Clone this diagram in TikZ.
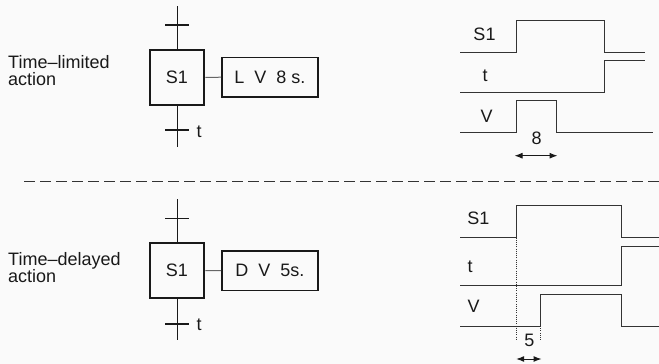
\documentclass[tikz,border=0pt]{standalone}
\usepackage{fontspec}
\setmainfont{Liberation Sans}
\usetikzlibrary{arrows.meta}
\definecolor{bgc}{RGB}{250,250,250}
\definecolor{ink}{RGB}{25,25,25}
\tikzset{
  txt/.style={inner sep=0pt, text=ink, font=\fontsize{18}{17}\selectfont},
  stepbox/.style={draw=ink, line width=2pt, minimum width=54.6pt, minimum height=55pt, inner sep=0pt, txt},
  actbox/.style={draw=ink, line width=1.6pt, minimum width=96pt, minimum height=39.4pt, inner sep=0pt, txt},
  wire/.style={draw=ink, line width=1pt},
  link/.style={draw=black!60, line width=1pt},
  tick/.style={draw=ink, line width=1.6pt},
  sig/.style={draw=black!80, line width=1pt, line join=miter},
  dots/.style={draw=black!80, line width=1pt, dash pattern=on 1pt off 1.2pt},
  sep/.style={draw=black!80, line width=1pt, dash pattern=on 11pt off 5pt},
  dim/.style={draw=ink, line width=1pt, {Latex[length=8pt,width=6pt]}-{Latex[length=8pt,width=6pt]}}
}
\begin{document}
\begin{tikzpicture}[x=1pt,y=-1pt]
\useasboundingbox[fill=bgc] (0,0) rectangle (659,364);

% ---------- top: time-limited action ----------
\node[txt, anchor=north west, align=left] (lab1) at (8,55.3) {Time–limited\\action};
\node[stepbox] (s1a) at (177,77.5) {S1};
\node[actbox] (act1) at (269.85,77.2) {L\ \ V\ \ 8 s.};
\coordinate (top1) at (177,6);
\coordinate (bot1) at (177,147);
\coordinate (tkA1) at (177,24.7);
\coordinate (tkB1) at (177,130);
\path[wire] (top1) -- (s1a.north) (s1a.south) -- (bot1);
\path[tick] ([xshift=-12pt]tkA1) -- ([xshift=12pt]tkA1);
\path[tick] ([xshift=-12pt]tkB1) -- ([xshift=12pt]tkB1);
\node[txt, anchor=base west] (t1) at (196.3,137.3) {t};
\path[link] (s1a.east) -- (act1.west);

% timing chart (top)
\node[txt, anchor=base] (ls1a) at (484.5,40) {S1};
\node[txt, anchor=base] (lta) at (485,81.7) {t};
\node[txt, anchor=base] (lva) at (486.7,122.7) {V};
\path[sig] (460,52) -- (516,52) -- (516,20) -- (604.7,20) -- (604.7,52) -- (644.7,52);
\path[sig] (460,92) -- (604.7,92) -- (604.7,60.3) -- (644.7,60.3);
\path[sig] (460,132.7) -- (516,132.7) -- (516,100.3) -- (556.3,100.3) -- (556.3,132.7) -- (653.3,132.7);
\node[txt, anchor=base] (n8) at (536.7,144) {8};
\coordinate (d8a) at (514.5,155.7);
\coordinate (d8b) at (557.5,155.7);
\path[dim] (d8a) -- (d8b);

% separator
\coordinate (sepL) at (24,181);
\coordinate (sepR) at (659,181);
\path[sep] (sepL) -- (sepR);

% ---------- bottom: time-delayed action ----------
\node[txt, anchor=north west, align=left] (lab2) at (8,252.6) {Time–delayed\\action};
\node[stepbox] (s1b) at (177,270.7) {S1};
\node[actbox] (act2) at (269.85,270.65) {D\ \ V\ \ 5s.};
\coordinate (top2) at (177,199);
\coordinate (bot2) at (177,340);
\coordinate (tkA2) at (177,218.3);
\coordinate (tkB2) at (177,324);
\path[wire] (top2) -- (s1b.north) (s1b.south) -- (bot2);
\path[tick] ([xshift=-12pt]tkA2) -- ([xshift=12pt]tkA2);
\path[tick] ([xshift=-12pt]tkB2) -- ([xshift=12pt]tkB2);
\node[txt, anchor=base west] (t2) at (196.3,330.5) {t};
\path[link] (s1b.east) -- (act2.west);

% timing chart (bottom)
\node[txt, anchor=base west] (ls1b) at (467.2,224.3) {S1};
\node[txt, anchor=base west] (ltb) at (467.5,272.7) {t};
\node[txt, anchor=base west] (lvb) at (467.5,312.3) {V};
\path[sig] (460,237.5) -- (516.7,237.5) -- (516.7,205) -- (621,205) -- (621,237.5) -- (659,237.5);
\path[sig] (460,285.5) -- (621,285.5) -- (621,246) -- (659,246);
\path[sig] (460,326) -- (540,326) -- (540,294) -- (621,294) -- (621,326) -- (659,326);
\path[dots] (516.7,237.5) -- (516.7,340);
\path[dots] (540,326) -- (540,340);
\node[txt, anchor=base] (n5) at (529.3,346) {5};
\coordinate (d5a) at (516.2,359);
\coordinate (d5b) at (541.5,359);
\path[dim] (d5a) -- (d5b);
\end{tikzpicture}
\end{document}
